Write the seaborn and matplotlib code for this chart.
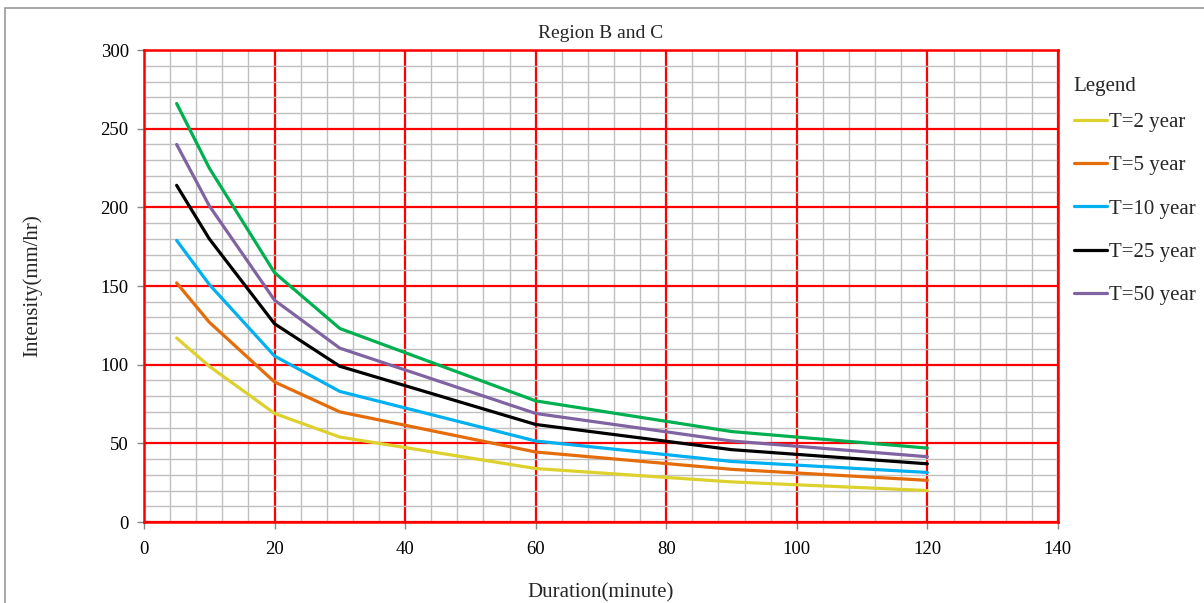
import matplotlib
matplotlib.use("Agg")
import matplotlib.pyplot as plt
import seaborn as sns
import pandas as pd
from matplotlib.patches import Rectangle
from matplotlib.ticker import MultipleLocator

# durations (minutes) and intensities (mm/hr)
durations = [5, 10, 20, 30, 60, 90, 120]
t2 = [117, 99, 69, 54, 34, 25.5, 20]
t5 = [152, 127, 89, 70, 44.5, 33.5, 26.5]
t10 = [179, 151, 105.5, 83, 51.5, 38.5, 31.5]
t25 = [214, 180, 126, 99, 62, 46, 37]
t50 = [240, 201, 141, 110.5, 69, 51.5, 41.5]
t100 = [266, 225, 158.5, 123, 77, 57.5, 47]

series_names = ["T=2 year", "T=5 year", "T=10 year", "T=25 year", "T=50 year", "T=100 year"]
series_values = [t2, t5, t10, t25, t50, t100]
colors = ["#DDD12E", "#E46C0A", "#00B0F0", "#000000", "#8064A2", "#00B050"]

rows = []
for name, vals in zip(series_names, series_values):
    for d, v in zip(durations, vals):
        rows.append({"Duration": d, "Intensity": v, "Return period": name})
df = pd.DataFrame(rows)

sns.set_style("white")
plt.rcParams["font.family"] = ["Liberation Serif", "DejaVu Serif"]

fig = plt.figure(figsize=(12.04, 6.03), dpi=100)
ax = fig.add_axes([0.1196, 0.1343, 0.8787 - 0.1196, 0.917 - 0.1343])

sns.lineplot(data=df, x="Duration", y="Intensity", hue="Return period",
             hue_order=series_names, palette=colors, linewidth=2.3, ax=ax,
             legend=False)

ax.set_xlim(0, 140)
ax.set_ylim(0, 300)
ax.xaxis.set_major_locator(MultipleLocator(20))
ax.yaxis.set_major_locator(MultipleLocator(50))
ax.xaxis.set_minor_locator(MultipleLocator(4))
ax.yaxis.set_minor_locator(MultipleLocator(10))
ax.grid(which="minor", color="#BFBFBF", linewidth=1.0, zorder=0)
ax.grid(which="major", color="#FF0000", linewidth=1.6, zorder=1)
ax.set_axisbelow(True)
for sp in ax.spines.values():
    sp.set_color("#FF0000")
    sp.set_linewidth(1.8)

ax.tick_params(axis="both", which="major", direction="out", length=5, width=1,
               color="#868686", labelsize=13.5, labelcolor="black",
               bottom=True, left=True)
ax.tick_params(axis="x", pad=9)
ax.tick_params(axis="y", pad=6)
ax.tick_params(which="minor", length=0)

ax.set_xlabel("Duration(minute)", fontsize=15, labelpad=18)
ax.set_ylabel("Intensity(mm/hr)", fontsize=15, labelpad=42)
ax.set_title("Region B and C", fontsize=14, pad=9)

# legend: title drawn separately so its gap to the entries can be set
fig.text(1073 / 1204, 1 - 86 / 603, "Legend", fontsize=15,
         ha="left", va="center")
handles = [plt.Line2D([], [], color=c, linewidth=2.3) for c in colors[:5]]
leg = fig.legend(handles, series_names[:5], loc="upper left",
                 bbox_to_anchor=(1066 / 1204, 1 - 104 / 603),
                 fontsize=15, frameon=False, handlelength=1.55,
                 handletextpad=0.1, labelspacing=1.14, borderaxespad=0)

# outer chart border
fig.patches.append(Rectangle((5 / 1204, -0.1), 1.2, 1.1 - 8 / 603,
                             transform=fig.transFigure, fill=False,
                             edgecolor="#9A9A9A", linewidth=1.2))

fig.savefig("out.png", dpi=100)
